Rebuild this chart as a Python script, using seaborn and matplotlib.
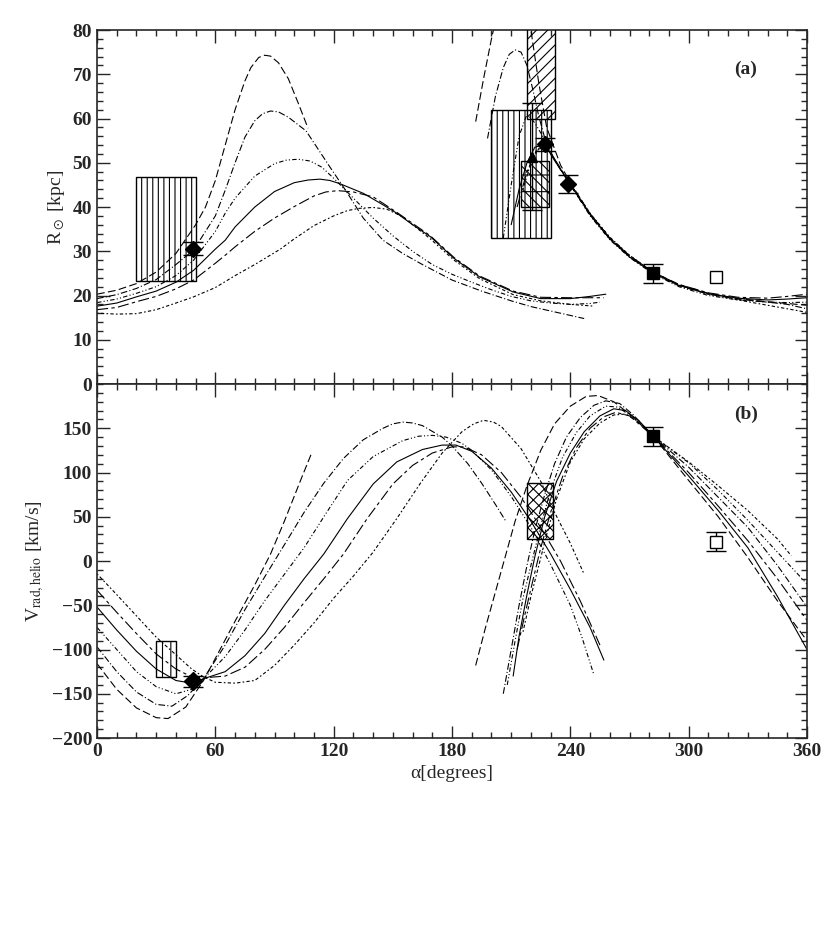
import numpy as np
import pandas as pd
import seaborn as sns
import matplotlib.pyplot as plt
from matplotlib.patches import Rectangle
from matplotlib.ticker import MultipleLocator

sns.set_style("ticks")
plt.rcParams['font.family'] = ['Liberation Serif', 'DejaVu Serif']
plt.rcParams['mathtext.fontset'] = 'stix'
plt.rcParams['hatch.linewidth'] = 0.8

# line style of each orbit model
dash_styles = {'A': (7, 3), 'B': (6, 2, 1, 2), 'C': (4, 2, 1, 2, 1, 2),
               'D': '', 'E': (10, 3, 3, 3), 'F': (1.5, 2, 3, 2)}

# ---- panel (a): heliocentric distance, first wrap ----
top1_A_x = [0, 10, 20, 30, 40, 50, 55, 60, 65, 70, 75, 78, 82, 85, 88, 92, 97, 102, 107]
top1_A_y = [20.3, 21.2, 22.7, 25.3, 29.5, 36, 40, 46, 54, 62, 68.5, 71.5, 73.8, 74.3, 74.1, 72.6, 69, 63.5, 57.8]
top1_B_x = [0, 10, 20, 30, 40, 49, 60, 65, 70, 75, 80, 84, 88, 92, 97, 106, 118, 126, 135, 145, 155, 165, 180, 195, 210, 220, 235, 247]
top1_B_y = [19.3, 20.2, 21.6, 23.6, 27, 30.3, 38, 43.8, 50, 55.8, 59.5, 61.1, 61.7, 61.5, 60.3, 57.2, 49.1, 43.8, 37.5, 32.5, 29.5, 27, 23.5, 21, 18.8, 17.5, 16, 14.8]
top1_C_x = [0, 10, 20, 30, 40, 49, 60, 65, 70, 80, 90, 96, 102, 108, 114, 120, 130, 140, 150, 160, 170, 180, 190, 200, 210, 220, 230, 240, 250, 255]
top1_C_y = [18.4, 19.2, 20.5, 22, 24.5, 28, 34.5, 38.6, 42, 47, 49.8, 50.6, 50.8, 50.4, 49, 46.5, 42, 37.5, 33.5, 30, 27, 24.8, 23, 21.3, 19.8, 18.8, 18.3, 18, 18.2, 18.5]
top1_D_x = [0, 10, 20, 30, 40, 49, 60, 65, 70, 80, 90, 100, 107, 113, 118, 123, 135, 145, 152, 160, 169, 181, 194, 211, 225, 240, 250, 258]
top1_D_y = [17.6, 18.3, 19.7, 21, 23, 25.7, 30.5, 32.5, 35.5, 40, 43.5, 45.5, 46.1, 46.3, 46, 45.3, 43.1, 40.5, 38.6, 36, 33.3, 28.4, 24.2, 20.8, 19.3, 19.3, 19.8, 20.3]
top1_E_x = [0, 10, 20, 30, 40, 49, 60, 65, 70, 80, 90, 100, 110, 116, 122, 130, 140, 152, 169, 181, 194, 211, 225, 240, 257]
top1_E_y = [16.8, 17.3, 18.6, 19.8, 21.5, 23.5, 27.3, 29.1, 31, 34.5, 37.5, 40.1, 42.5, 43.4, 43.7, 43.4, 42.3, 38.8, 33.5, 28.6, 24.4, 21, 19.6, 19.5, 19.5]
top1_F_x = [0, 10, 20, 30, 40, 49, 60, 70, 80, 93, 100, 110, 120, 127, 133, 140, 147, 155, 169, 181, 194, 211, 225, 240, 252]
top1_F_y = [16, 15.8, 15.9, 16.8, 18.3, 19.7, 21.8, 24.5, 27, 30.5, 32.8, 35.8, 38, 39.2, 39.7, 39.9, 39.5, 37.8, 32.8, 28, 23.8, 20.2, 18.8, 18, 17.6]

# ---- panel (a): second wrap ----
top2_A_x = [192, 196, 200, 204, 210, 216, 220, 224, 228, 235, 240, 250, 260, 270, 282, 295, 310, 325, 340, 350, 360]
top2_A_y = [59.3, 69, 78, 86, 92, 88, 80, 68, 58, 49.5, 45.5, 38.5, 33, 29, 25.3, 22.5, 20.5, 19.3, 18.6, 18.2, 17.8]
top2_B_x = [198, 202, 206, 209, 212, 215, 218, 221, 224, 228, 235, 240, 250, 260, 270, 282, 295, 310, 325, 340, 350, 360]
top2_B_y = [55.5, 65, 71.5, 74.5, 75.5, 75, 72, 66.5, 60.5, 54, 48.5, 45, 38.2, 32.8, 28.8, 25, 22.2, 20.3, 19.2, 18.5, 18, 17]
top2_C_x = [206, 210, 214, 218, 222, 226, 230, 240, 250, 260, 270, 282, 295, 310, 325, 340, 350, 360]
top2_C_y = [33, 45, 56, 61, 59, 56, 52, 45, 38, 32.6, 28.6, 24.9, 22, 20, 19, 18.5, 18.4, 18.5]
top2_D_x = [210, 214, 218, 222, 227, 232, 240, 250, 260, 270, 282, 295, 310, 325, 340, 350, 360]
top2_D_y = [36, 44, 50, 53.5, 54.2, 50.5, 45.2, 38.3, 32.8, 28.7, 25.1, 22.3, 20.4, 19.4, 19, 19.2, 19.5]
top2_E_x = [213, 218, 223, 228, 235, 240, 250, 260, 270, 282, 295, 310, 325, 340, 350, 360]
top2_E_y = [40, 48, 53, 53.5, 48.8, 45, 38.4, 33, 29, 25.2, 22.5, 20.6, 19.6, 19.4, 19.8, 20.3]
top2_F_x = [216, 220, 225, 229, 235, 240, 250, 260, 270, 282, 295, 310, 325, 340, 350, 360]
top2_F_y = [44, 50, 54, 53, 48.5, 45.3, 38.6, 33.2, 29.1, 25.3, 22.4, 20.3, 19, 17.8, 17, 16.2]

# ---- panel (b): radial velocity, first wrap ----
bot1_A_x = [0, 10, 20, 30, 36, 45, 54, 60, 70, 80, 88, 95, 103, 109]
bot1_A_y = [-116, -145, -166, -177, -178, -165, -135, -110, -68, -27, 8, 45, 90, 123]
bot1_B_x = [0, 10, 20, 30, 38, 46, 54, 65, 75, 85, 96, 105, 115, 125, 135, 145, 150, 155, 160, 165, 175, 180, 188, 195, 202, 207]
bot1_B_y = [-97, -125, -148, -162, -164, -152, -133, -95, -55, -18, 22, 55, 88, 116, 137, 150, 155, 157, 156, 153, 140, 130, 110, 88, 64, 46]
bot1_C_x = [0, 10, 20, 30, 40, 48, 54, 65, 75, 85, 95, 105, 115, 127, 140, 155, 163, 170, 177, 185, 190, 200, 210, 220, 230, 240, 246, 252]
bot1_C_y = [-75, -100, -125, -142, -150, -145, -133, -108, -78, -45, -15, 15, 50, 91, 118, 136, 141, 142, 140, 133, 125, 103, 73, 38, -4, -50, -87, -129]
bot1_D_x = [0, 10, 20, 30, 40, 48, 54, 65, 75, 85, 95, 105, 115, 127, 140, 152, 165, 175, 182, 190, 200, 210, 220, 230, 240, 250, 257]
bot1_D_y = [-52, -78, -102, -122, -135, -138, -133, -125, -107, -82, -50, -20, 8, 48, 87, 112, 126, 131, 131, 124, 105, 78, 45, 8, -32, -75, -112]
bot1_E_x = [0, 10, 20, 30, 40, 48, 54, 65, 75, 85, 95, 105, 115, 125, 137, 150, 160, 170, 180, 186, 195, 205, 215, 225, 235, 245, 255]
bot1_E_y = [-33, -58, -82, -105, -122, -131, -132, -130, -120, -100, -75, -47, -20, 8, 48, 87, 108, 122, 129, 129, 120, 100, 72, 38, 0, -45, -95]
bot1_F_x = [0, 10, 20, 30, 40, 48, 54, 60, 70, 80, 90, 100, 110, 120, 130, 140, 152, 164, 175, 185, 191, 196, 201, 205, 215, 225, 232, 240, 247]
bot1_F_y = [-14.5, -38, -62, -86, -106, -122, -131, -137, -138, -135, -118, -95, -70, -42, -17, 10, 48, 88, 122, 146, 155, 159, 157, 152, 127, 90, 55, 20, -15]

# ---- panel (b): second wrap ----
bot2_A_x = [192, 197, 202, 207, 212, 218, 225, 232, 240, 248, 254, 262, 270, 282, 300, 315, 330, 345, 360]
bot2_A_y = [-118, -75, -35, 5, 45, 85, 125, 155, 175, 186, 187, 180, 166, 141, 91, 50, 4, -45, -90]
bot2_B_x = [206, 210, 214, 218, 222, 227, 232, 238, 245, 252, 258, 265, 272, 282, 300, 315, 330, 345, 360]
bot2_B_y = [-150, -100, -50, -5, 35, 75, 110, 140, 162, 176, 181, 178, 165, 141, 106, 72, 38, -5, -52]
bot2_C_x = [208, 212, 216, 220, 225, 230, 236, 243, 250, 258, 264, 272, 282, 300, 315, 330, 345, 360]
bot2_C_y = [-140, -90, -42, -5, 40, 80, 117, 145, 164, 175, 174, 162, 141, 111, 80, 46, 10, -26]
bot2_D_x = [211, 214, 218, 222, 227, 233, 240, 247, 255, 262, 268, 275, 282, 300, 315, 330, 345, 360]
bot2_D_y = [-130, -85, -38, 5, 50, 90, 122, 146, 164, 172, 170, 158, 141, 96, 57, 15, -40, -100]
bot2_E_x = [213, 217, 221, 225, 230, 236, 243, 250, 257, 263, 270, 282, 300, 315, 330, 345, 360]
bot2_E_y = [-100, -60, -22, 15, 55, 95, 128, 150, 163, 168, 164, 141, 100, 62, 23, -20, -67]
bot2_F_x = [216, 220, 224, 228, 233, 240, 247, 255, 262, 268, 275, 282, 300, 315, 330, 345, 352]
bot2_F_y = [-80, -40, -5, 30, 70, 112, 138, 156, 165, 166, 157, 141, 112, 85, 57, 25, 6]

# observational constraints (boxes: alpha range, value range)
top_boxes = [((20, 50), (23.3, 46.7), '|||'),
             ((200, 230), (33, 62), '|||'),
             ((218, 232), (60, 85), '///'),
             ((215, 229), (40, 50.5), r'\\\-')]
bot_boxes = [((30, 40), (-131, -90), '||'),
             ((218, 231), (25, 88), 'xxx')]

# data points: alpha, value, error
top_diamond_x = [48.8, 227.2, 238.7]
top_diamond_y = [30.6, 54.2, 45.2]
top_diamond_err = [1.4, 1.5, 2.0]
top_tri_x, top_tri_y, top_tri_err = [220.4], [51.4], [12.0]
top_sq_x, top_sq_y, top_sq_err = [281.8], [25.0], [2.2]
top_open_x, top_open_y = [313.9], [24.1]
bot_diamond_x, bot_diamond_y, bot_diamond_err = [48.8], [-136], [6]
bot_sq_x, bot_sq_y, bot_sq_err = [282.1], [140.7], [11]
bot_open_x, bot_open_y, bot_open_err = [313.9], [22], [11]


def curves_frame(prefix):
    g = globals()
    rows = []
    for wrap in ('1', '2'):
        for m in 'ABCDEF':
            xs = g[f'{prefix}{wrap}_{m}_x']
            ys = g[f'{prefix}{wrap}_{m}_y']
            for x, y in zip(xs, ys):
                rows.append({'alpha': x, 'val': y, 'model': m, 'seg': m + wrap})
    return pd.DataFrame(rows)


fig = plt.figure(figsize=(8.3, 9.38), dpi=100)
ax1 = fig.add_axes([0.1169, 0.5906, 0.8554, 0.3774])
ax2 = fig.add_axes([0.1169, 0.2132, 0.8554, 0.3774], sharex=ax1)

for ax, prefix in ((ax1, 'top'), (ax2, 'bot')):
    df = curves_frame(prefix)
    sns.lineplot(data=df, x='alpha', y='val', style='model', units='seg',
                 estimator=None, sort=False, dashes=dash_styles, color='k',
                 lw=0.8, legend=False, ax=ax)

for ax, boxes in ((ax1, top_boxes), (ax2, bot_boxes)):
    for (x0, x1), (y0, y1), h in boxes:
        ax.add_patch(Rectangle((x0, y0), x1 - x0, y1 - y0, fill=False,
                               hatch=h, ec='k', lw=1.0, zorder=3))

eb = dict(fmt='none', ecolor='k', elinewidth=1, capsize=7, capthick=1, zorder=4)
ax1.errorbar(top_diamond_x, top_diamond_y, yerr=top_diamond_err, **eb)
ax1.plot(top_diamond_x, top_diamond_y, 'D', color='k', ms=8, zorder=5)
ax1.errorbar(top_tri_x, top_tri_y, yerr=top_tri_err, **eb)
ax1.plot(top_tri_x, top_tri_y, '^', color='k', ms=7, zorder=5)
ax1.errorbar(top_sq_x, top_sq_y, yerr=top_sq_err, **eb)
ax1.plot(top_sq_x, top_sq_y, 's', color='k', ms=9, zorder=5)
ax1.plot(top_open_x, top_open_y, 's', mfc='white', mec='k', mew=1, ms=9, zorder=5)

ax2.errorbar(bot_diamond_x, bot_diamond_y, yerr=bot_diamond_err, **eb)
ax2.plot(bot_diamond_x, bot_diamond_y, 'D', color='k', ms=9, zorder=5)
ax2.errorbar(bot_sq_x, bot_sq_y, yerr=bot_sq_err, **eb)
ax2.plot(bot_sq_x, bot_sq_y, 's', color='k', ms=9, zorder=5)
ax2.errorbar(bot_open_x, bot_open_y, yerr=bot_open_err, **eb)
ax2.plot(bot_open_x, bot_open_y, 's', mfc='white', mec='k', mew=1, ms=8, zorder=5)

ax1.set_xlim(0, 360)
ax1.set_ylim(0, 80)
ax2.set_ylim(-200, 200)
ax1.xaxis.set_major_locator(MultipleLocator(60))
ax1.xaxis.set_minor_locator(MultipleLocator(10))
ax1.yaxis.set_major_locator(MultipleLocator(10))
ax1.yaxis.set_minor_locator(MultipleLocator(2))
ax2.set_yticks(np.arange(-200, 151, 50))
ax2.yaxis.set_minor_locator(MultipleLocator(10))

for ax in (ax1, ax2):
    ax.tick_params(which='both', direction='in', top=True, right=True,
                   labelsize=14, width=1)
    ax.tick_params(which='major', length=9)
    ax.tick_params(which='minor', length=4.5)
    for lab in ax.get_xticklabels() + ax.get_yticklabels():
        lab.set_fontweight('bold')
    for s in ax.spines.values():
        s.set_linewidth(1.2)
ax1.tick_params(labelbottom=False)

ax1.set_xlabel('')
ax1.set_ylabel(r'R$_\odot$ [kpc]', fontsize=14)
ax2.set_ylabel(r'V$_{\rm rad,helio}$ [km/s]', fontsize=14)
ax2.set_xlabel('α[degrees]', fontsize=14)

ax1.text(329, 71, '(a)', fontsize=14, fontweight='bold', ha='center', va='center')
ax2.text(329, 166, '(b)', fontsize=14, fontweight='bold', ha='center', va='center')

fig.savefig('out.png', dpi=100)
